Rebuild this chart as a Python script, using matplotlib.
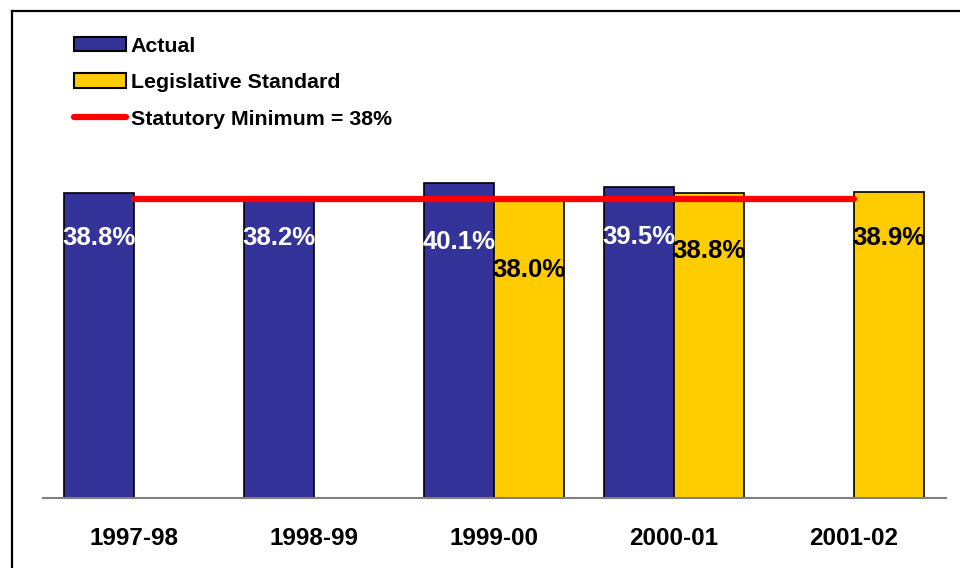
# Actual vs. legislative standard percentages by fiscal year
# -*- coding: utf-8 -*-

import numpy as np
import matplotlib.pyplot as plt
from matplotlib.lines import Line2D
from matplotlib.patches import Patch

years = ['1997-98', '1998-99', '1999-00', '2000-01', '2001-02']
actual = [38.8, 38.2, 40.1, 39.5, np.nan]
standard = [np.nan, np.nan, 38.0, 38.8, 38.9]
statutory_min = 38.0

# where the value labels sit inside the bars (in % units)
actual_label_y = [33.0, 33.0, 32.6, 33.2, np.nan]
standard_label_y = [np.nan, np.nan, 29.0, 31.4, 33.0]

BLUE = '#333399'
YELLOW = '#FFCC00'
RED = '#FF0000'


def main():
    plt.rcParams['font.family'] = ['Liberation Sans', 'DejaVu Sans']
    plt.rcParams['font.weight'] = 'bold'

    fig = plt.figure(figsize=(9.6, 5.68), dpi=100)
    ax = fig.add_axes([43 / 960, 70 / 568, 903 / 960, 472 / 568])

    x = np.arange(len(years))
    w = 0.389

    ax.bar(x - w / 2, actual, width=w, color=BLUE, edgecolor='black',
           linewidth=1.2, zorder=2)
    ax.bar(x + w / 2, standard, width=w, color=YELLOW, edgecolor='black',
           linewidth=1.2, zorder=2)

    ax.plot([x[0], x[-1]], [statutory_min, statutory_min], color=RED,
            linewidth=4.5, solid_capstyle='round', zorder=3)

    for i in range(len(years)):
        if not np.isnan(actual[i]):
            ax.text(x[i] - w / 2, actual_label_y[i], f'{actual[i]:.1f}%',
                    ha='center', va='center', color='white', fontsize=18.5,
                    fontweight='bold', zorder=4)
        if not np.isnan(standard[i]):
            ax.text(x[i] + w / 2, standard_label_y[i], f'{standard[i]:.1f}%',
                    ha='center', va='center', color='black', fontsize=18.5,
                    fontweight='bold', zorder=4)

    ax.set_xlim(-0.506, len(years) - 1 + 0.511)
    ax.set_ylim(0, 60)
    ax.set_xticks(x)
    ax.set_xticklabels(years, fontsize=17.5, fontweight='bold')
    ax.tick_params(axis='x', length=0, pad=21)
    ax.set_yticks([])
    for side in ('top', 'right', 'left'):
        ax.spines[side].set_visible(False)
    ax.spines['bottom'].set_color('#808080')
    ax.spines['bottom'].set_linewidth(1.5)

    handles = [
        Patch(facecolor=BLUE, edgecolor='black', linewidth=1.5),
        Patch(facecolor=YELLOW, edgecolor='black', linewidth=1.5),
        Line2D([0], [0], color=RED, linewidth=4.5, solid_capstyle='round'),
    ]
    labels = ['Actual', 'Legislative Standard', 'Statutory Minimum = 38%']
    fig.legend(handles, labels, loc='upper left',
               bbox_to_anchor=(65.5 / 960, 1 - 28 / 568), frameon=False,
               prop={'size': 15.4, 'weight': 'bold'}, handlelength=2.43,
               handleheight=0.68, handletextpad=0.22, labelspacing=0.82,
               borderaxespad=0)

    # frame lines along the left and top edges
    fig.add_artist(Line2D([12 / 960, 12 / 960], [0, 1 - 10.5 / 568],
                          transform=fig.transFigure, color='black',
                          linewidth=1.6))
    fig.add_artist(Line2D([12 / 960, 1], [1 - 10.5 / 568, 1 - 10.5 / 568],
                          transform=fig.transFigure, color='black',
                          linewidth=1.6))

    fig.savefig('out.png', dpi=100)


if __name__ == '__main__':
    main()
